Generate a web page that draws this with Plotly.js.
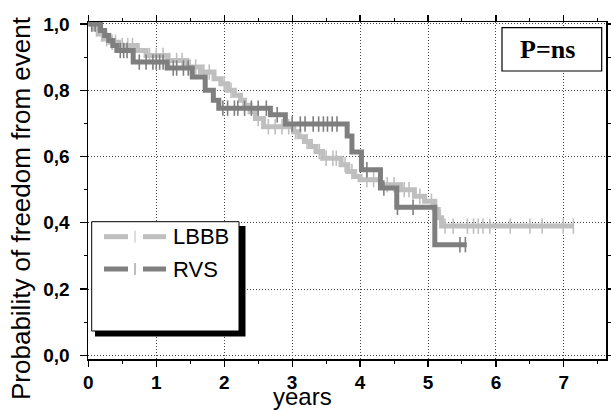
<!DOCTYPE html>
<html><head><meta charset="utf-8">
<script src="https://cdn.plot.ly/plotly-3.0.1.min.js"></script>
<style>html,body{margin:0;padding:0;background:#fff}#chart{width:611px;height:410px}</style>
</head><body><div id="chart"></div>
<script>
// Kaplan-Meier step data
const lbbbT = [0,0.08,0.15,0.22,0.32,0.45,0.72,0.85,1.16,1.45,1.65,1.85,1.95,2.05,2.15,2.24,2.3,2.38,2.46,2.58,3.02,3.1,3.18,3.27,3.35,3.45,3.72,3.82,3.92,4.0,4.3,4.6,4.8,4.95,5.1,5.15,5.2,7.14];
const lbbbS = [1.0,0.985,0.97,0.955,0.945,0.935,0.92,0.905,0.89,0.87,0.855,0.835,0.82,0.80,0.785,0.77,0.755,0.735,0.715,0.69,0.675,0.66,0.645,0.63,0.615,0.595,0.575,0.555,0.54,0.53,0.515,0.50,0.48,0.465,0.44,0.415,0.39,0.39];
const rvsT = [0,0.18,0.24,0.3,0.36,0.42,0.66,1.16,1.53,1.72,1.84,1.92,2.68,2.9,3.81,3.88,4.02,4.3,4.54,5.1,5.57];
const rvsS = [1.0,0.98,0.965,0.95,0.935,0.92,0.885,0.867,0.84,0.80,0.77,0.746,0.726,0.698,0.662,0.614,0.56,0.505,0.447,0.334,0.334];
// censoring times
const lbbbCens = [0.05,0.12,0.2,0.27,0.35,0.4,0.5,0.58,0.65,0.9,1.0,1.1,1.2,1.3,1.38,1.5,1.58,1.7,1.78,2.0,2.1,2.5,2.65,2.75,2.85,2.95,3.05,3.22,3.4,3.5,3.6,3.65,3.78,3.88,4.1,4.2,4.4,4.5,4.65,4.72,4.88,5.05,5.18,5.25,5.37,5.58,5.67,5.74,5.81,5.91,6.21,6.5,6.68,6.99,7.14];
const rvsCens = [0.05,0.1,0.15,0.47,0.52,0.57,0.75,0.85,0.95,1.0,1.05,1.1,1.25,1.3,1.4,1.47,1.98,2.05,2.15,2.2,2.3,2.4,2.5,2.62,2.78,3.0,3.12,3.19,3.31,3.39,3.46,3.52,3.59,3.66,4.1,4.35,4.55,4.78,5.47,5.55];
const yTickVals = [0,0.2,0.4,0.6,0.8,1.0];
const yTickText = ["0,0","0,2","0,4","0,6","0,8","1,0"];
const xTickVals = [0,1,2,3,4,5,6,7];
const xTickText = ["0","1","2","3","4","5","6","7"];
const seriesNames = ["LBBB","RVS"];
const lightC = "#bfbfbf", darkC = "#7f7f7f";

function stepAt(T,S,t){let v=S[0];for(let i=0;i<T.length;i++){if(T[i]<=t)v=S[i];}return v;}

const traces = [
 {x:lbbbT,y:lbbbS,mode:'lines',line:{shape:'hv',color:lightC,width:5},hoverinfo:'skip'},
 {x:lbbbCens,y:lbbbCens.map(t=>stepAt(lbbbT,lbbbS,t)),mode:'markers',marker:{symbol:'line-ns-open',size:11,color:lightC,line:{color:lightC,width:1.6}},hoverinfo:'skip'},
 {x:rvsT,y:rvsS,mode:'lines',line:{shape:'hv',color:darkC,width:5},hoverinfo:'skip'},
 {x:rvsCens,y:rvsCens.map(t=>stepAt(rvsT,rvsS,t)),mode:'markers',marker:{symbol:'line-ns-open',size:11,color:darkC,line:{color:darkC,width:1.6}},hoverinfo:'skip'}
];

const px = p => (p-88)/518, py = p => (359-p)/337;
const shapes = [
 {type:'rect',xref:'paper',yref:'paper',x0:px(95),x1:px(245.5),y0:py(336.5),y1:py(226),fillcolor:'#000',line:{width:0}},
 {type:'rect',xref:'paper',yref:'paper',x0:px(91.7),x1:px(239),y0:py(331),y1:py(221.7),fillcolor:'#fff',line:{color:'#000',width:1}},
 {type:'rect',xref:'paper',yref:'paper',x0:px(502),x1:px(601.7),y0:py(71),y1:py(27.7),fillcolor:'#fff',line:{color:'#000',width:1.2}}
];
[[236.7,lightC],[269,darkC]].forEach(([yy,c])=>{
 shapes.push({type:'line',xref:'paper',yref:'paper',x0:px(104),x1:px(128),y0:py(yy),y1:py(yy),line:{color:c,width:5}});
 shapes.push({type:'line',xref:'paper',yref:'paper',x0:px(143),x1:px(166),y0:py(yy),y1:py(yy),line:{color:c,width:5}});
 shapes.push({type:'line',xref:'paper',yref:'paper',x0:px(135),x1:px(135),y0:py(yy-6),y1:py(yy+6),line:{color:c,width:1}});
});

const annotations = [
 {xref:'paper',yref:'paper',x:px(171),y:py(236.7),xanchor:'left',yanchor:'middle',text:seriesNames[0],showarrow:false,font:{family:'Liberation Sans, Arial',size:22,color:'#000'}},
 {xref:'paper',yref:'paper',x:px(171),y:py(269),xanchor:'left',yanchor:'middle',text:seriesNames[1],showarrow:false,font:{family:'Liberation Sans, Arial',size:22,color:'#000'}},
 {xref:'paper',yref:'paper',x:px(547),y:py(50),xanchor:'center',yanchor:'middle',text:'<b>P=ns</b>',showarrow:false,font:{family:'Liberation Serif, Times New Roman',size:26,color:'#000'}},
 {xref:'paper',yref:'paper',x:px(21),y:py(208),xanchor:'center',yanchor:'middle',textangle:-90,text:'Probability of freedom from event',showarrow:false,font:{family:'Liberation Sans, Arial',size:26,color:'#000'}},
 {xref:'paper',yref:'paper',x:px(302),y:py(397),xanchor:'center',yanchor:'middle',text:'years',showarrow:false,font:{family:'Liberation Sans, Arial',size:24,color:'#000'}}
];

const axCommon = {showline:true,linecolor:'#000',linewidth:1.5,mirror:'allticks',ticks:'outside',ticklen:7,tickwidth:1.2,tickcolor:'#000',
 showgrid:true,gridcolor:'#444',gridwidth:1,griddash:'1px,2px',zeroline:false,tickmode:'array',
 tickfont:{family:'Liberation Sans, Arial',size:19,color:'#000',weight:'bold'}};

const layout = {
 width:611,height:410,margin:{l:88,r:5,t:22,b:51},paper_bgcolor:'#fff',plot_bgcolor:'#fff',showlegend:false,
 xaxis:Object.assign({},axCommon,{range:[-0.005,7.62],tickvals:xTickVals,ticktext:xTickText.map(s=>'<b>'+s+'</b>'),ticklen:6,
   minor:{dtick:0.5,tick0:0,ticks:'outside',ticklen:3,tickcolor:'#000',tickwidth:1,showgrid:false}}),
 yaxis:Object.assign({},axCommon,{range:[-0.011,1.006],tickvals:yTickVals,ticktext:yTickText.map(s=>'<b>'+s+'</b>'),ticklabelstandoff:6,
   minor:{dtick:0.1,tick0:0,ticks:'outside',ticklen:3,tickcolor:'#000',tickwidth:1,showgrid:false}}),
 shapes:shapes,annotations:annotations
};
Plotly.newPlot('chart',traces,layout,{staticPlot:true,displayModeBar:false});
</script></body></html>
